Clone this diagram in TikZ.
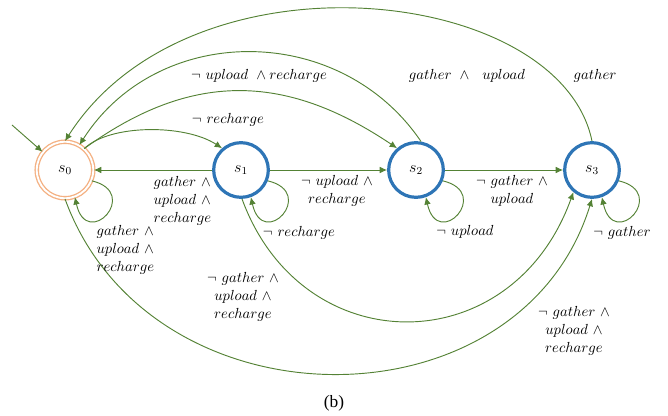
\documentclass[tikz,border=0pt]{standalone}
\usepackage{fontspec}
\newfontfamily\capfont{Liberation Serif}
\usetikzlibrary{arrows.meta}
\definecolor{edgegreen}{RGB}{84,130,53}
\definecolor{stateblue}{RGB}{46,117,182}
\definecolor{initorange}{RGB}{244,177,131}
\begin{document}
\begin{tikzpicture}[x=0.75pt,y=-0.75pt,
  state/.style={circle, draw=stateblue, line width=2.4pt, minimum size=41pt, inner sep=0pt, font=\large},
  initstate/.style={circle, draw=initorange, double=white, double distance=1.4pt, line width=1pt, minimum size=42.4pt, inner sep=0pt, font=\large},
  trans/.style={draw=edgegreen, line width=0.7pt, -{Latex[length=5.5pt,width=5pt]}},
  lbl/.style={font=\fontsize{10.8}{13.5}\selectfont, inner sep=1pt},
  lblm/.style={lbl, align=left},
  lblc/.style={lbl, align=center}]
\useasboundingbox (0,0) rectangle (668,416);

% states
\node[initstate] (s0) at (65,170) {$s_0$};
\node[state] (s1) at (241,170) {$s_1$};
\node[state] (s2) at (416,170) {$s_2$};
\node[state] (s3) at (592,170) {$s_3$};

% initial arrow
\coordinate (init) at (12,125);
\draw[trans] (init) -- (s0.141);

% straight transitions
\draw[trans] (s1) -- (s0);
\draw[trans] (s1) -- (s2);
\draw[trans] (s2) -- (s3);

% upper arcs
\draw[trans] (s0.48) .. controls (110,124) and (185,124) .. (s1.131);
\draw[trans] (s0.48) .. controls (190,72) and (284,72) .. (s2.131);
\draw[trans] (s2.80) .. controls (340,22) and (158,22) .. (s0.60);
\draw[trans] (s3.90) .. controls (560,-15) and (190,-55) .. (s0.90);

% lower arcs
\draw[trans] (s1.272) .. controls (302,363) and (512,363) .. (s3.230);
\draw[trans] (s0.270) .. controls (150,432) and (520,432) .. (s3.270);

% self loops
\draw[trans] (s0.-22) .. controls +(50,12) and +(12,54) .. (s0.-70);
\draw[trans] (s1.-22) .. controls +(50,12) and +(12,54) .. (s1.-70);
\draw[trans] (s2.-22) .. controls +(50,12) and +(12,54) .. (s2.-70);
\draw[trans] (s3.-22) .. controls +(50,12) and +(12,54) .. (s3.-70);

% labels
\node[lbl] (l01) at (228,120) {$\neg\ recharge$};
\node[lblm, anchor=west] (l10) at (152,201) {$gather\ \wedge$\\$upload\ \wedge$\\$recharge$};
\node[lblm, anchor=west] (l00) at (95,250) {$gather\ \wedge$\\$upload\ \wedge$\\$recharge$};
\node[lblc] (l12) at (337,191) {$\neg\ upload\ \wedge$\\$recharge$};
\node[lbl] (l11) at (299,233) {$\neg\ recharge$};
\node[lblc] (l23) at (512,191) {$\neg\ gather\ \wedge$\\$upload$};
\node[lbl] (l22) at (465,232) {$\neg\ upload$};
\node[lbl] (l33) at (622,233) {$\neg\ gather$};
\node[lbl] (l02) at (259,76) {$\neg\ upload\ \wedge recharge$};
\node[lbl] (l20) at (467,76) {$gather\ \wedge\ \ upload$};
\node[lbl] (l30) at (595,76) {$gather$};
\node[lblc] (l13) at (243,297) {$\neg\ gather\ \wedge$\\$upload\ \wedge$\\$recharge$};
\node[lblc] (l03) at (574,331) {$\neg\ gather\ \wedge$\\$upload\ \wedge$\\$recharge$};

% caption
\node[inner sep=0pt] (cap) at (334,403) {\capfont\fontsize{13}{15}\selectfont (b)};
\end{tikzpicture}
\end{document}
